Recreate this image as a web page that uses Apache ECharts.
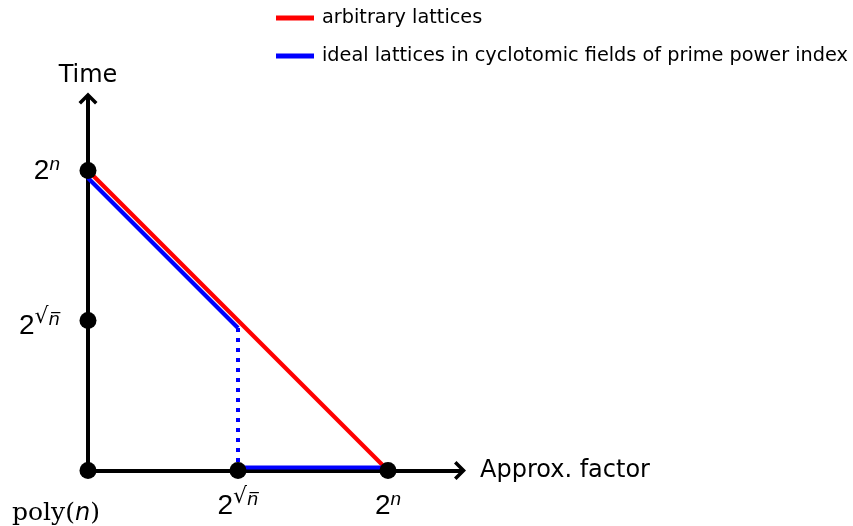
<!DOCTYPE html>
<html>
<head>
<meta charset="utf-8">
<script src="https://cdn.jsdelivr.net/npm/echarts@6/dist/echarts.min.js"></script>
<style>
html,body{margin:0;padding:0;background:#fff;}
#chart{width:853px;height:526px;}
</style>
</head>
<body>
<div id="chart"></div>
<script>
// ---- data ----
const tickValues = [0, 1, 2];
const xTickLabels = ['poly(n)', '2^√n', '2^n'];
const yTickLabels = ['', '2^√n', '2^n'];
const seriesNames = ['arbitrary lattices', 'ideal lattices in cyclotomic fields of prime power index'];
const redLine = [[0, 2], [1.98, 0.02]];
const blueDiag = [[0, 1.95], [1, 0.95]];
const blueDotted = [[1, 0.95], [1, 0.03]];
const blueFlat = [[1, 0.02], [1.98, 0.02]];
const dots = [[0, 0], [0, 1], [0, 2], [1, 0], [2, 0]];
const axisMax = 2.48;

function toRich(label, isY) {
  if (label === '') return '';
  if (label === 'poly(n)') return '{pr|poly(}{pn|n}{pe|)}';
  if (label === '2^√n') return (isY ? '{bY|2}' : '{b|2}') + '{r|√}{sq|n\u0305}';
  if (label === '2^n') return '{b|2}{s|n}';
  return label;
}

const rich = {
  b: {fontFamily: 'Liberation Sans', fontSize: 28, lineHeight: 30, verticalAlign: 'bottom', color: '#000'},
  bY: {fontFamily: 'Liberation Sans', fontSize: 28, lineHeight: 40, verticalAlign: 'bottom', color: '#000'},
  s: {fontFamily: 'Liberation Sans', fontStyle: 'italic', fontSize: 19, lineHeight: 19, padding: [0, 0, 11, 0], verticalAlign: 'bottom', color: '#000'},
  r: {fontFamily: 'DejaVu Sans', fontSize: 22, lineHeight: 19, padding: [0, 0, 12, 0], verticalAlign: 'bottom', color: '#000'},
  sq: {fontFamily: 'DejaVu Sans', fontStyle: 'italic', fontSize: 18, lineHeight: 19, padding: [0, 0, 11, 0], verticalAlign: 'bottom', color: '#000'},
  pr: {fontFamily: 'DejaVu Serif', fontSize: 25, lineHeight: 36, verticalAlign: 'bottom', color: '#000'},
  pn: {fontFamily: 'DejaVu Sans', fontStyle: 'italic', fontSize: 24, lineHeight: 36, verticalAlign: 'bottom', color: '#000'},
  pe: {fontFamily: 'DejaVu Serif', fontSize: 25, lineHeight: 36, padding: [0, 64, 0, 0], verticalAlign: 'bottom', color: '#000'}
};

const arrowPath = 'path://M9.5,0 L19,9.5 L16.5,12 L9.5,5 L2.5,12 L0,9.5 Z';

const chart = echarts.init(document.getElementById('chart'), null, {renderer: 'canvas'});
chart.setOption({
  animation: false,
  backgroundColor: '#fff',
  legend: {
    data: seriesNames,
    orient: 'vertical',
    left: 276,
    top: 8,
    padding: 0,
    itemWidth: 38,
    itemHeight: 5,
    itemGap: 18,
    icon: 'rect',
    textStyle: {fontFamily: 'DejaVu Sans', fontSize: 19.3, lineHeight: 20, color: '#000', padding: [0, 0, 0, 3]}
  },
  grid: {left: 88, top: 98.5, width: 372, height: 372, containLabel: false},
  xAxis: {
    type: 'value', min: 0, max: axisMax, interval: 1,
    name: 'Approx. factor', nameLocation: 'end', nameGap: 20,
    nameTextStyle: {fontFamily: 'DejaVu Sans', fontSize: 24, color: '#000'},
    axisLine: {show: true, lineStyle: {color: '#000', width: 4}, symbol: ['none', arrowPath], symbolSize: [19, 12]},
    axisTick: {show: false},
    splitLine: {show: false},
    axisLabel: {
      margin: 19.5,
      formatter: function (v) { const i = tickValues.indexOf(v); return i < 0 ? '' : toRich(xTickLabels[i], false); },
      rich: rich
    }
  },
  yAxis: {
    type: 'value', min: 0, max: axisMax, interval: 1,
    name: 'Time', nameLocation: 'end', nameGap: 11,
    nameTextStyle: {fontFamily: 'DejaVu Sans', fontSize: 24, color: '#000'},
    axisLine: {show: true, lineStyle: {color: '#000', width: 4}, symbol: ['none', arrowPath], symbolSize: [19, 12]},
    axisTick: {show: false},
    splitLine: {show: false},
    axisLabel: {
      margin: 28,
      formatter: function (v) { const i = tickValues.indexOf(v); return i < 0 ? '' : toRich(yTickLabels[i], true); },
      rich: rich
    }
  },
  series: [
    {name: seriesNames[0], type: 'line', data: redLine, showSymbol: false, symbol: 'none', color: '#ff0000',
     lineStyle: {color: '#ff0000', width: 4.2}, z: 3},
    {name: seriesNames[1], type: 'line', data: blueDiag, showSymbol: false, symbol: 'none', color: '#0000ff',
     lineStyle: {color: '#0000ff', width: 4.2}, z: 3},
    {name: 'ideal-dotted', type: 'line', data: blueDotted, showSymbol: false, symbol: 'none', color: '#0000ff',
     lineStyle: {color: '#0000ff', width: 4, type: [4, 6]}, z: 3},
    {name: 'ideal-flat', type: 'line', data: blueFlat, showSymbol: false, symbol: 'none', color: '#0000ff',
     lineStyle: {color: '#0000ff', width: 4.2}, z: 3},
    {name: 'points', type: 'scatter', data: dots, symbol: 'circle', symbolSize: 17,
     itemStyle: {color: '#000', opacity: 1}, z: 10}
  ]
});
</script>
</body>
</html>
